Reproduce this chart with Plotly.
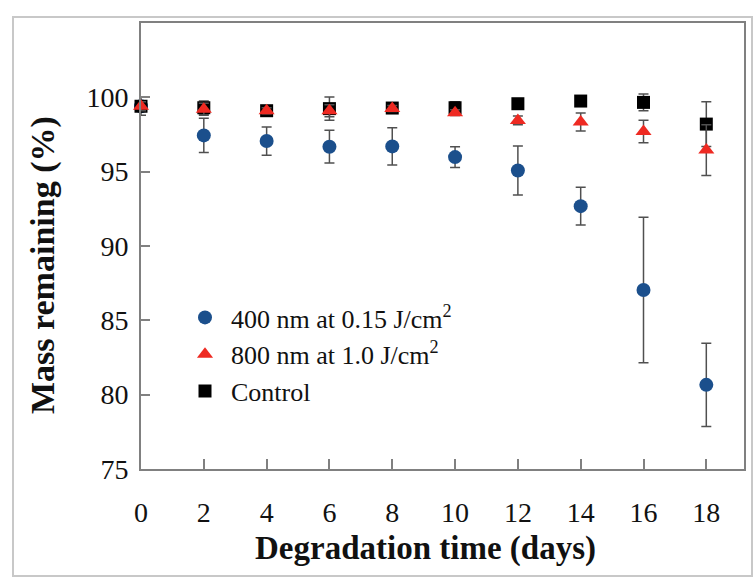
import plotly.graph_objects as go

days = [0, 2, 4, 6, 8, 10, 12, 14, 16, 18]

mass_400 = [99.4, 97.44, 97.06, 96.68, 96.70, 95.98, 95.08, 92.68, 87.04, 80.66]
err_400 = [0.3, 1.15, 0.95, 1.1, 1.25, 0.7, 1.65, 1.27, 4.9, 2.8]

mass_800 = [99.4, 99.2, 99.1, 99.1, 99.25, 98.97, 98.45, 98.34, 97.70, 96.45]
err_800 = [0.3, 0.4, 0.2, 0.4, 0.2, 0.2, 0.3, 0.6, 0.76, 1.7]

mass_ctrl = [99.4, 99.3, 99.1, 99.24, 99.28, 99.3, 99.57, 99.75, 99.66, 98.2]
err_ctrl = [0.6, 0.45, 0.2, 0.78, 0.3, 0.4, 0.15, 0.15, 0.56, 1.5]

y_ticks = [75, 80, 85, 90, 95, 100]
x_ticks = days

FONT = "Liberation Serif, Times New Roman, serif"
ERR_COLOR = "#505050"

def err(arr):
    return dict(type="data", array=arr, visible=True, color=ERR_COLOR,
                thickness=1.5, width=5)

fig = go.Figure()
fig.add_trace(go.Scatter(
    x=days, y=mass_400, mode="markers", name="400 nm at 0.15 J/cm<sup>2</sup>",
    marker=dict(symbol="circle", size=14, color="#1b4f8c"),
    error_y=err(err_400), cliponaxis=False, legendrank=1))
fig.add_trace(go.Scatter(
    x=days, y=mass_ctrl, mode="markers", name="Control",
    marker=dict(symbol="square", size=13, color="#000000"),
    error_y=err(err_ctrl), cliponaxis=False, legendrank=3))
fig.add_trace(go.Scatter(
    x=days, y=mass_800, mode="markers", name="800 nm at 1.0 J/cm<sup>2</sup>",
    marker=dict(symbol="triangle-up", size=14, color="#ee2a22"),
    error_y=err(err_800), cliponaxis=False, legendrank=2))

L, R, T, B = 141, 12, 23, 117
W, H = 756, 586
pw = W - L - R
ph = H - T - B

def px(x):
    return (x - L) / pw

def py(y):
    return (H - B - y) / ph

fig.add_shape(type="rect", xref="paper", yref="paper",
              x0=px(13), x1=px(752), y0=py(576), y1=py(17),
              line=dict(color="#c8c8c8", width=2), layer="below")

fig.add_annotation(text="<b>Degradation time (days)</b>", xref="paper", yref="paper",
                   x=px(425), y=py(548), xanchor="center", yanchor="middle",
                   showarrow=False, font=dict(size=33, family=FONT, color="#111111"))
fig.add_annotation(text="<b>Mass remaining (%)</b>", xref="paper", yref="paper",
                   x=px(43), y=py(265), xanchor="center", yanchor="middle",
                   textangle=-90, showarrow=False,
                   font=dict(size=34, family=FONT, color="#111111"))

fig.update_layout(
    width=W, height=H,
    margin=dict(l=L, r=R, t=T, b=B, autoexpand=False),
    plot_bgcolor="white", paper_bgcolor="white",
    font=dict(family=FONT, size=28, color="#111111"),
    showlegend=True,
    legend=dict(x=px(179), y=py(294), xanchor="left", yanchor="top",
                bgcolor="rgba(0,0,0,0)", font=dict(size=26, family=FONT),
                itemsizing="trace", tracegroupgap=0, itemwidth=42),
    xaxis=dict(range=[0, 19.2], tickvals=x_ticks, ticktext=[str(v) for v in x_ticks],
               ticks="inside", ticklen=10, tickwidth=1.5, tickcolor="#808080",
               showline=True, linecolor="#808080", linewidth=2, mirror=True,
               showgrid=False, zeroline=False, ticklabelstandoff=17,
               automargin=False),
    yaxis=dict(range=[75, 105], tickvals=y_ticks, ticktext=[str(v) for v in y_ticks],
               ticks="inside", ticklen=9, tickwidth=1.5, tickcolor="#808080",
               showline=True, linecolor="#808080", linewidth=2, mirror=True,
               showgrid=False, zeroline=False, ticklabelstandoff=5,
               automargin=False),
)

fig.write_html("out.html", config={"displayModeBar": False},
               post_script="document.body.style.margin='0px';document.body.style.padding='0px';")
